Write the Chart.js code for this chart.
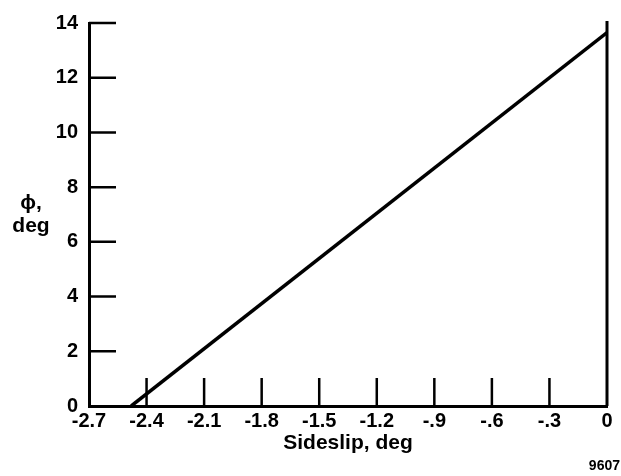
<!DOCTYPE html>
<html lang="en">
<head>
    <meta charset="UTF-8">
    <script src="https://cdn.jsdelivr.net/npm/chart.js@4/dist/chart.umd.min.js"></script>
    <title>Roll angle vs sideslip</title>
    <style>
        body { margin: 0; background: #fff; }
        #wrap { width: 621px; height: 476px; }
    </style>
</head>
<body>
    <div id="wrap"><canvas id="chart" width="621" height="476"></canvas></div>
    <script>
        // data
        const sideslip = [-2.48, 0];
        const phi = [0, 13.65];
        const xTicks = [-2.7, -2.4, -2.1, -1.8, -1.5, -1.2, -0.9, -0.6, -0.3, 0];
        const xTickLabels = ['-2.7', '-2.4', '-2.1', '-1.8', '-1.5', '-1.2', '-.9', '-.6', '-.3', '0'];
        const yTicks = [0, 2, 4, 6, 8, 10, 12, 14];

        const font = '"Liberation Sans", Arial, sans-serif';

        // inward tick marks, right frame line and extra labels
        const decor = {
            id: 'decor',
            afterDraw(chart) {
                const c = chart.ctx;
                const xs = chart.scales.x, ys = chart.scales.y;
                const area = chart.chartArea;
                c.save();
                c.strokeStyle = '#000';
                c.lineWidth = 2.5;
                c.beginPath();
                yTicks.forEach(v => {
                    if (v === 0) return;
                    const py = ys.getPixelForValue(v);
                    c.moveTo(area.left, py);
                    c.lineTo(area.left + 27, py);
                });
                xTicks.forEach(v => {
                    if (v === -2.7 || v === 0) return;
                    const px = xs.getPixelForValue(v);
                    c.moveTo(px, area.bottom);
                    c.lineTo(px, area.bottom - 28);
                });
                c.stroke();
                // right frame
                c.lineWidth = 3;
                c.beginPath();
                c.moveTo(area.right, ys.getPixelForValue(0));
                c.lineTo(area.right, ys.getPixelForValue(14.07));
                c.stroke();
                // y axis title
                c.fillStyle = '#000';
                c.textAlign = 'center';
                c.textBaseline = 'middle';
                c.font = 'bold 21px ' + font;
                c.fillText('\u03D5,', 31, 203);
                c.fillText('deg', 31, 226);
                c.font = 'bold 14px ' + font;
                c.textAlign = 'right';
                c.fillText('9607', 620, 466);
                c.restore();
            }
        };

        new Chart(document.getElementById('chart'), {
            type: 'scatter',
            data: {
                datasets: [{
                    data: sideslip.map((x, i) => ({ x: x, y: phi[i] })),
                    showLine: true,
                    borderColor: '#000',
                    borderWidth: 3.5,
                    pointRadius: 0,
                    fill: false
                }]
            },
            options: {
                responsive: false,
                animation: false,
                layout: { padding: { top: 17, right: 14, left: 0, bottom: 0 } },
                plugins: { legend: { display: false }, tooltip: { enabled: false } },
                scales: {
                    x: {
                        type: 'linear',
                        min: -2.7,
                        max: 0,
                        afterBuildTicks(scale) { scale.ticks = xTicks.map(v => ({ value: v })); },
                        afterFit(scale) { scale.height = 70; },
                        grid: { display: true, drawOnChartArea: false, drawTicks: false },
                        border: { display: true, color: '#000', width: 3 },
                        ticks: {
                            color: '#000',
                            padding: 3,
                            maxRotation: 0,
                            autoSkip: false,
                            font: { family: font, size: 20, weight: 'bold' },
                            callback: (v, i) => xTickLabels[i]
                        },
                        title: {
                            display: true,
                            text: 'Sideslip, deg',
                            color: '#000',
                            padding: { top: 0, bottom: 20 },
                            font: { family: font, size: 21, weight: 'bold' }
                        }
                    },
                    y: {
                        type: 'linear',
                        min: 0,
                        max: 14,
                        afterBuildTicks(scale) { scale.ticks = yTicks.map(v => ({ value: v })); },
                        afterFit(scale) { scale.width = 89; },
                        grid: { display: true, drawOnChartArea: false, drawTicks: false },
                        border: { display: true, color: '#000', width: 3 },
                        ticks: {
                            color: '#000',
                            padding: 11,
                            font: { family: font, size: 20, weight: 'bold' }
                        }
                    }
                }
            },
            plugins: [decor]
        });
    </script>
</body>
</html>
